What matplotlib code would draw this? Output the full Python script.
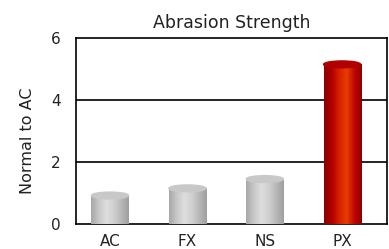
import numpy as np
import matplotlib
matplotlib.use("Agg")
import matplotlib.pyplot as plt
from matplotlib.patches import Ellipse
from matplotlib.colors import LinearSegmentedColormap

categories = ["AC", "FX", "NS", "PX"]
values = [0.92, 1.15, 1.45, 5.15]
yticks = [0, 2, 4, 6]

plt.rcParams['font.family'] = ['DejaVu Sans']

fig = plt.figure(figsize=(3.89, 2.49), dpi=100)
ax = fig.add_axes([76 / 389, 25 / 249, 311 / 389, 186 / 249])

gray_cmap = LinearSegmentedColormap.from_list(
    "g", ["#a8a8a8", "#c8c8c8", "#dedede", "#d0d0d0", "#b8b8b8", "#a0a0a0"])
red_cmap = LinearSegmentedColormap.from_list(
    "r", ["#8c0000", "#b00000", "#d82000", "#e83c00", "#c00800", "#900000"])

x = np.arange(len(categories))
width = 0.48
bars = ax.bar(x, values, width=width, color="none", zorder=3)
grad = np.linspace(0, 1, 64).reshape(1, -1)
for i, (b, v) in enumerate(zip(bars, values)):
    cmap = red_cmap if categories[i] == "PX" else gray_cmap
    im = ax.imshow(grad, cmap=cmap, aspect="auto", zorder=3,
                   extent=[b.get_x(), b.get_x() + b.get_width(), 0, v])
    im.set_clip_path(b)
    capc = "#b00000" if categories[i] == "PX" else "#c8c8c8"
    ax.add_patch(Ellipse((x[i], v), width, 0.22, color=capc, zorder=4))

ax.set_xlim(-0.44, 3.58)
ax.set_ylim(0, 6)
ax.set_yticks(yticks)
ax.set_xticks(x)
ax.set_xticklabels(categories)
ax.tick_params(length=0, labelsize=11, pad=7, colors="#222222")
ax.tick_params(axis="y", pad=11)
for t in yticks[1:-1]:
    ax.axhline(t, color="black", lw=1.2, zorder=1)
for s in ax.spines.values():
    s.set_color("black")
    s.set_linewidth(1.2)
ax.set_ylabel("Normal to AC", fontsize=11.5, color="#222222")
ax.yaxis.set_label_coords(-0.133, 0.45)
ax.set_title("Abrasion Strength", fontsize=12.5, pad=7, color="#222222")

fig.savefig("out.png", dpi=100)
